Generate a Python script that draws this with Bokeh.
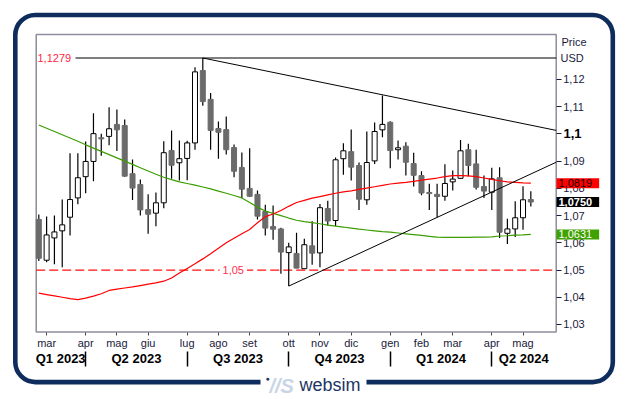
from bokeh.plotting import figure
from bokeh.models import (Range1d, LinearAxis, FixedTicker, CustomJSTickFormatter,
                          Label, BoxAnnotation, ColumnDataSource)
from bokeh.embed import file_html
from bokeh.resources import INLINE

# ---------------- data (weekly EUR/USD candles, Feb 2023 - May 2024) ----------------
weeks = list(range(64))
opens = [1.0686, 1.0536, 1.0618, 1.0644, 1.0694, 1.0765, 1.0843, 1.0899, 1.0986, 1.0991,
         1.1035, 1.1031, 1.0854, 1.0814, 1.0722, 1.0709, 1.0747, 1.0939, 1.0894, 1.0910,
         1.0967, 1.1233, 1.1127, 1.1020, 1.1016, 1.0950, 1.0877, 1.0800, 1.0778, 1.0715,
         1.0660, 1.0651, 1.0564, 1.0561, 1.0505, 1.0589, 1.0563, 1.0726, 1.0682, 1.0909,
         1.0935, 1.0884, 1.0758, 1.0901, 1.1015, 1.1043, 1.0942, 1.0955, 1.0891, 1.0847,
         1.0785, 1.0778, 1.0771, 1.0824, 1.0837, 1.0942, 1.0890, 1.0807, 1.0786, 1.0839,
         1.0635, 1.0651, 1.0692, 1.0759]
highs = [1.0704, 1.0697, 1.0700, 1.0759, 1.0929, 1.0929, 1.0972, 1.1076, 1.1001, 1.1098,
         1.1090, 1.1053, 1.0906, 1.0833, 1.0778, 1.0785, 1.0973, 1.1013, 1.0976, 1.0975,
         1.1245, 1.1279, 1.1150, 1.1046, 1.1064, 1.0961, 1.0932, 1.0947, 1.0792, 1.0740,
         1.0737, 1.0655, 1.0600, 1.0637, 1.0615, 1.0679, 1.0743, 1.0755, 1.0913, 1.0966,
         1.1016, 1.0895, 1.1009, 1.1042, 1.1141, 1.1047, 1.0976, 1.0969, 1.0931, 1.0863,
         1.0817, 1.0817, 1.0889, 1.0866, 1.0978, 1.0964, 1.0942, 1.0847, 1.0876, 1.0878,
         1.0688, 1.0753, 1.0808, 1.0789]
lows = [1.0533, 1.0529, 1.0521, 1.0510, 1.0627, 1.0742, 1.0782, 1.0826, 1.0920, 1.0958,
        1.0937, 1.0843, 1.0757, 1.0700, 1.0633, 1.0661, 1.0727, 1.0835, 1.0829, 1.0830,
        1.0942, 1.1104, 1.0942, 1.0909, 1.0924, 1.0841, 1.0764, 1.0768, 1.0686, 1.0627,
        1.0611, 1.0486, 1.0441, 1.0507, 1.0505, 1.0519, 1.0510, 1.0664, 1.0662, 1.0850,
        1.0829, 1.0721, 1.0740, 1.0890, 1.0988, 1.0874, 1.0906, 1.0847, 1.0807, 1.0775,
        1.0721, 1.0694, 1.0755, 1.0792, 1.0834, 1.0844, 1.0796, 1.0765, 1.0721, 1.0618,
        1.0596, 1.0621, 1.0648, 1.0733]
closes = [1.0543, 1.0629, 1.0640, 1.0666, 1.0759, 1.0839, 1.0899, 1.1001, 1.0982, 1.1019,
          1.1015, 1.0845, 1.0801, 1.0721, 1.0705, 1.0747, 1.0931, 1.0885, 1.0909, 1.0967,
          1.1228, 1.1119, 1.1013, 1.1006, 1.0942, 1.0863, 1.0797, 1.0771, 1.0698, 1.0654,
          1.0650, 1.0566, 1.0585, 1.0507, 1.0593, 1.0562, 1.0729, 1.0680, 1.0905, 1.0938,
          1.0878, 1.0760, 1.0895, 1.1009, 1.1035, 1.0939, 1.0949, 1.0896, 1.0848, 1.0783,
          1.0781, 1.0770, 1.0818, 1.0834, 1.0938, 1.0884, 1.0804, 1.0790, 1.0835, 1.0639,
          1.0651, 1.0692, 1.0758, 1.0750]

ma_green = [1.1033, 1.1021, 1.1009, 1.0997, 1.0985, 1.0973, 1.0960, 1.0948, 1.0936, 1.0924,
            1.0912, 1.0900, 1.0888, 1.0876, 1.0864, 1.0852, 1.0841, 1.0832, 1.0824, 1.0818,
            1.0812, 1.0805, 1.0798, 1.0790, 1.0782, 1.0774, 1.0765, 1.0748, 1.0731, 1.0717,
            1.0708, 1.0700, 1.0691, 1.0683, 1.0678, 1.0674, 1.0670, 1.0665, 1.0661, 1.0658,
            1.0654, 1.0650, 1.0647, 1.0644, 1.0641, 1.0639, 1.0636, 1.0633, 1.0630, 1.0627,
            1.0624, 1.0621, 1.0620, 1.0620, 1.0620, 1.0620, 1.0621, 1.0621, 1.0622, 1.0625,
            1.0626, 1.0628, 1.0629, 1.0631]
ma_red = [1.0415, 1.0410, 1.0405, 1.0400, 1.0395, 1.0391, 1.0397, 1.0404, 1.0413, 1.0425,
          1.0430, 1.0434, 1.0438, 1.0443, 1.0448, 1.0453, 1.0459, 1.0471, 1.0489, 1.0506,
          1.0523, 1.0541, 1.0560, 1.0580, 1.0600, 1.0617, 1.0633, 1.0649, 1.0674, 1.0696,
          1.0706, 1.0719, 1.0734, 1.0748, 1.0756, 1.0764, 1.0770, 1.0776, 1.0782, 1.0787,
          1.0791, 1.0796, 1.0801, 1.0806, 1.0811, 1.0816, 1.0819, 1.0822, 1.0826, 1.0830,
          1.0834, 1.0838, 1.0843, 1.0847, 1.0847, 1.0846, 1.0843, 1.0838, 1.0833, 1.0828,
          1.0824, 1.0822, 1.0820, 1.0819]

trend_down_x = [21, 66.25]
trend_down_y = [1.1279, 1.1013]
trend_up_x = [32, 66.25]
trend_up_y = [1.0441, 1.0896]
resistance = 1.1279
support = 1.05
last_price = 1.0750
last_red = 1.0819
last_green = 1.0631

price_ticks = [1.03, 1.04, 1.05, 1.06, 1.07, 1.08, 1.09, 1.10, 1.11, 1.12]
month_ticks = [1, 6, 10, 14, 19, 23, 27, 32, 36, 40, 45, 49, 53, 58, 62]
month_labels = ["mar", "apr", "mag", "giu", "lug", "ago", "set", "ott", "nov", "dic",
                "gen", "feb", "mar", "apr", "mag"]
quarter_bounds = [6, 19, 32, 45, 58]
quarter_mid = [2.8, 12.5, 25.5, 38.5, 51.5, 62.1]
quarter_labels = ["Q1 2023", "Q2 2023", "Q3 2023", "Q4 2023", "Q1 2024", "Q2 2024"]

# ---------------- figure: the frame is the whole canvas ----------------
FONT = "Liberation Sans"
TXT = "#1a1a3c"
NAVY = "#0f2d5c"
W, H = 629, 399
XMIN, XMAX = -0.33, 66.25          # plot-area extent (week index)
YMIN, YMAX = 1.0272, 1.1365        # plot-area extent (price)
p = figure(width=W, height=H, output_backend="svg", toolbar_location=None,
           x_range=Range1d(-4.904, 75.634), y_range=Range1d(1.00244, 1.14902),
           x_axis_type=None, y_axis_type=None,
           min_border_left=0, min_border_right=0, min_border_top=0, min_border_bottom=0)
p.min_border = 0
p.outline_line_color = None
p.background_fill_color = "white"
p.border_fill_color = "white"

# plot area border
p.add_layout(BoxAnnotation(left=XMIN, right=XMAX, bottom=YMIN, top=YMAX,
                           fill_alpha=0, line_color="#8e8e9e", line_alpha=1, line_width=1.5,
                           level="underlay"))

# right price axis
yfmt = CustomJSTickFormatter(code="""
    const v = Math.round(tick * 100) / 100;
    if (Math.abs(v - 1.1) < 1e-9) { return ''; }
    return v.toFixed(2).replace('.', ',');
""")
yaxis = LinearAxis(ticker=FixedTicker(ticks=price_ticks), formatter=yfmt, fixed_location=XMAX,
                   axis_line_color=None, major_tick_out=5, major_tick_in=0,
                   minor_tick_out=0, minor_tick_in=0, major_tick_line_color=TXT,
                   major_label_standoff=2, major_label_text_font=FONT,
                   major_label_text_font_size="11px", major_label_text_color=TXT)
p.add_layout(yaxis, "right")

# month axis
mfmt = CustomJSTickFormatter(args=dict(t=month_ticks, l=month_labels), code="""
    const i = t.indexOf(tick); return i < 0 ? '' : l[i];
""")
maxis = LinearAxis(ticker=FixedTicker(ticks=month_ticks), formatter=mfmt, fixed_location=YMIN,
                   axis_line_color=None, major_tick_out=3, major_tick_in=0,
                   minor_tick_out=0, minor_tick_in=0, major_tick_line_color="#444444",
                   major_label_standoff=2, major_label_text_font=FONT,
                   major_label_text_font_size="11px", major_label_text_color=TXT)
p.add_layout(maxis, "below")

# quarter separators
saxis = LinearAxis(ticker=FixedTicker(ticks=quarter_bounds),
                   formatter=CustomJSTickFormatter(code="return '';"), fixed_location=1.02007,
                   axis_line_color=None, major_tick_out=15, major_tick_in=0,
                   minor_tick_out=0, minor_tick_in=0, major_tick_line_color="black",
                   major_tick_line_width=1.5)
p.add_layout(saxis, "below")

# quarter labels
qfmt = CustomJSTickFormatter(args=dict(t=quarter_mid, l=quarter_labels), code="""
    const i = t.indexOf(tick); return i < 0 ? '' : l[i];
""")
qaxis = LinearAxis(ticker=FixedTicker(ticks=quarter_mid), formatter=qfmt, fixed_location=1.02044,
                   axis_line_color=None, major_tick_out=0, major_tick_in=0,
                   minor_tick_out=0, minor_tick_in=0, major_label_standoff=0,
                   major_label_text_font=FONT, major_label_text_font_style="bold",
                   major_label_text_font_size="13px", major_label_text_color="black")
p.add_layout(qaxis, "below")

# ---------------- candles ----------------
up_idx = [i for i in weeks if closes[i] >= opens[i]]
dn_idx = [i for i in weeks if closes[i] < opens[i]]
up = ColumnDataSource(dict(x=[weeks[i] for i in up_idx],
                           top=[closes[i] for i in up_idx], bot=[opens[i] for i in up_idx]))
dn = ColumnDataSource(dict(x=[weeks[i] for i in dn_idx],
                           top=[opens[i] for i in dn_idx], bot=[closes[i] for i in dn_idx]))

p.segment(x0=[XMIN], y0=[support], x1=[XMAX], y1=[support], line_color="#ff1010",
          line_width=1.3, line_dash="9 4")
p.segment(x0=[4.7], y0=[resistance], x1=[XMAX], y1=[resistance], line_color="black", line_width=1.2)

p.segment(x0=weeks, y0=lows, x1=weeks, y1=highs, line_color="black", line_width=1.2)
p.vbar(x="x", width=0.64, top="top", bottom="bot", source=up,
       fill_color="white", line_color="black", line_width=1)
p.vbar(x="x", width=0.64, top="top", bottom="bot", source=dn,
       fill_color="#6b6b6b", line_color="#6b6b6b", line_width=1)

# moving averages and trend lines
p.line(weeks, ma_green, line_color="#3c9e00", line_width=1.2)
p.line(weeks, ma_red, line_color="#ff0000", line_width=1.2)
p.line(trend_down_x, trend_down_y, line_color="black", line_width=1)
p.line(trend_up_x, trend_up_y, line_color="black", line_width=1)

# ---------------- labels (screen units: origin at bottom-left of the canvas) ----------------
p.add_layout(Label(x=37, x_units="screen", y=resistance, text="1,1279",
                   text_font=FONT, text_font_size="11px", text_color="#ff1f3f",
                   text_baseline="middle", text_align="left"))
p.add_layout(Label(x=24.9, y=support, text="1,05", text_font=FONT, text_font_size="11px",
                   text_color="#ff2f4f", text_baseline="middle", text_align="center",
                   background_fill_color="white",
                   padding=dict(left=3, right=3, top=0, bottom=0)))
p.add_layout(Label(x=563, x_units="screen", y=1.10, text="1,1", text_font=FONT,
                   text_font_size="13px", text_font_style="bold", text_color="black",
                   text_baseline="middle", text_align="left"))
p.add_layout(Label(x=561, x_units="screen", y=H - 41, y_units="screen", text="Price",
                   text_font=FONT, text_font_size="11px", text_color=TXT,
                   text_baseline="middle", text_align="left"))
p.add_layout(Label(x=560, x_units="screen", y=H - 57, y_units="screen", text="USD",
                   text_font=FONT, text_font_size="11px", text_color=TXT,
                   text_baseline="middle", text_align="left"))

for val, bg, fg, st in [(last_red, "#ff0000", "#1a0000", "normal"),
                        (last_price, "#000000", "#ffffff", "bold"),
                        (last_green, "#3fa200", "#ffffff", "normal")]:
    p.add_layout(Label(x=556, x_units="screen", y=val,
                       text=f"{val:.4f}".replace(".", ","), text_font=FONT,
                       text_font_size="11px", text_font_style=st, text_color=fg,
                       text_baseline="middle", text_align="left",
                       background_fill_color=bg,
                       padding=dict(left=2, right=7, top=1, bottom=1)))

# outer rounded border and logo
p.add_layout(BoxAnnotation(left=14.8, right=612.3, top=H - 14.5, bottom=H - 381.6,
                           left_units="screen", right_units="screen",
                           top_units="screen", bottom_units="screen",
                           fill_alpha=0, line_color=NAVY, line_alpha=1, line_width=4.6,
                           border_radius=20))
p.add_layout(BoxAnnotation(left=260, right=366, top=H - 372, bottom=H - 394,
                           left_units="screen", right_units="screen",
                           top_units="screen", bottom_units="screen",
                           fill_color="white", fill_alpha=1, line_alpha=0))
p.add_layout(Label(x=267, x_units="screen", y=H - 378, y_units="screen", text="\u25cf",
                   text_font=FONT, text_font_size="7px", text_color="#1c3563",
                   text_baseline="middle", text_align="center"))
p.add_layout(Label(x=269, x_units="screen", y=H - 385, y_units="screen", text="//S",
                   text_font=FONT, text_font_size="20px", text_font_style="bold italic",
                   text_color="#c9d5e6", text_baseline="middle", text_align="left"))
p.add_layout(Label(x=299, x_units="screen", y=H - 384, y_units="screen", text="websim",
                   text_font=FONT, text_font_size="18px",
                   text_color="#1c3563", text_baseline="middle", text_align="left"))

open("out.html", "w").write(file_html(p, INLINE))
